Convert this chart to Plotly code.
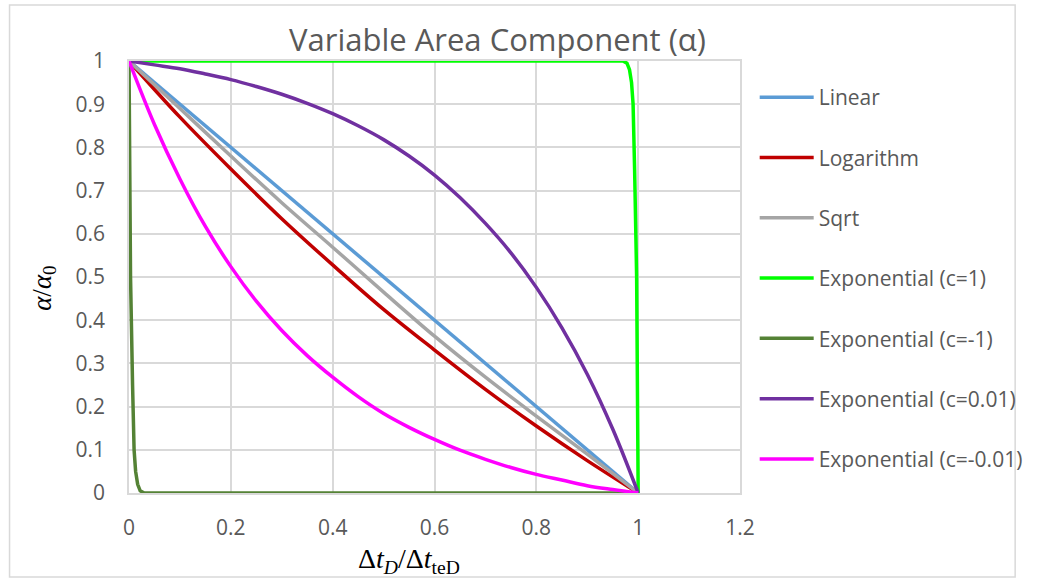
import plotly.graph_objects as go

# ---- data ----
X_TENTHS = [0, 0.1, 0.2, 0.3, 0.4, 0.5, 0.6, 0.7, 0.8, 0.9, 1.0]
X_TWENTIETHS = [0, 0.05, 0.1, 0.15, 0.2, 0.25, 0.3, 0.35, 0.4, 0.45, 0.5,
                0.55, 0.6, 0.65, 0.7, 0.75, 0.8, 0.85, 0.9, 0.95, 1.0]

LINEAR_X = [0, 0.2, 0.4, 0.6, 0.8, 1.0]
LINEAR_Y = [1, 0.8, 0.6, 0.4, 0.2, 0]

LOG_Y = [1, 0.87, 0.75, 0.635, 0.528, 0.425, 0.331, 0.24, 0.155, 0.075, 0]
SQRT_Y = [1, 0.89, 0.78, 0.672, 0.569, 0.465, 0.363, 0.268, 0.178, 0.09, 0]

EXP_P1_X = [0, 0.97, 0.978, 0.983, 0.987, 0.99, 0.993, 0.997, 1.0]
EXP_P1_Y = [1, 1, 0.995, 0.98, 0.95, 0.9, 0.75, 0.5, 0]

EXP_M1_X = [0, 0.003, 0.007, 0.01, 0.013, 0.017, 0.022, 0.03, 1.0]
EXP_M1_Y = [1, 0.5, 0.25, 0.1, 0.05, 0.02, 0.005, 0, 0]

EXP_P001_Y = [1, 0.991, 0.982, 0.970, 0.957, 0.941, 0.923, 0.902, 0.878,
              0.850, 0.818, 0.780, 0.736, 0.684, 0.624, 0.556, 0.476, 0.383,
              0.275, 0.148, 0]

EXP_M001_Y = [1, 0.853, 0.727, 0.617, 0.524, 0.444, 0.376, 0.318, 0.268,
              0.223, 0.184, 0.152, 0.124, 0.099, 0.078, 0.059, 0.043, 0.030,
              0.017, 0.008, 0]

SERIES = [
    ("Linear", LINEAR_X, LINEAR_Y, "#5B9BD5", "linear"),
    ("Logarithm", X_TENTHS, LOG_Y, "#C00000", "spline"),
    ("Sqrt", X_TENTHS, SQRT_Y, "#A5A5A5", "spline"),
    ("Exponential (c=1)", EXP_P1_X, EXP_P1_Y, "#00FF00", "linear"),
    ("Exponential (c=-1)", EXP_M1_X, EXP_M1_Y, "#548235", "linear"),
    ("Exponential (c=0.01)", X_TWENTIETHS, EXP_P001_Y, "#7030A0", "spline"),
    ("Exponential (c=-0.01)", X_TWENTIETHS, EXP_M001_Y, "#FF00FF", "spline"),
]

X_TICKS = [0, 0.2, 0.4, 0.6, 0.8, 1, 1.2]
X_TICK_LABELS = ["0", "0.2", "0.4", "0.6", "0.8", "1", "1.2"]
Y_TICKS = [0, 0.1, 0.2, 0.3, 0.4, 0.5, 0.6, 0.7, 0.8, 0.9, 1]
Y_TICK_LABELS = ["0", "0.1", "0.2", "0.3", "0.4", "0.5", "0.6", "0.7", "0.8", "0.9", "1"]

TEXT = "#595959"
GRID = "#D9D9D9"
FONT = "Open Sans"

fig = go.Figure()
for i, (name, xs, ys, color, shape) in enumerate(SERIES):
    fig.add_trace(go.Scatter(
        x=xs, y=ys, name=name, mode="lines",
        line=dict(color=color, width=3.5, shape=shape, smoothing=1.0),
        legendgroup=f"g{i}",
    ))

W, H = 1040, 579
L, R, T, B = 129, 753, 61, 493
PW, PH = R - L, B - T


def px(xp):
    return (xp - L) / PW


def py(yp):
    return (B - yp) / PH


fig.update_layout(
    width=W, height=H,
    margin=dict(l=L, r=W - R, t=T, b=H - B, pad=0),
    paper_bgcolor="white", plot_bgcolor="white",
    font=dict(family=FONT, color=TEXT, size=21),
    showlegend=True,
    legend=dict(
        x=px(768), y=py(77), xanchor="left", yanchor="top",
        font=dict(family=FONT, size=21, color=TEXT),
        tracegroupgap=30, itemwidth=54,
        bgcolor="rgba(0,0,0,0)",
        traceorder="grouped",
    ),
    xaxis=dict(
        range=[0, 1.2], tickvals=X_TICKS, ticktext=X_TICK_LABELS,
        showgrid=True, gridcolor=GRID, gridwidth=1.5,
        zeroline=False, showline=True, linecolor=GRID, linewidth=1.5, mirror=True,
        ticks="", ticklabelstandoff=15,
        tickfont=dict(family=FONT, size=21, color=TEXT),
    ),
    yaxis=dict(
        range=[0, 1], tickvals=Y_TICKS, ticktext=Y_TICK_LABELS,
        showgrid=True, gridcolor=GRID, gridwidth=1.5,
        zeroline=False, showline=True, linecolor=GRID, linewidth=1.5, mirror=True,
        ticks="", ticklabelstandoff=18,
        tickfont=dict(family=FONT, size=21, color=TEXT),
    ),
    annotations=[
        dict(text="Variable Area Component (α)", x=px(505), y=py(39),
             xref="paper", yref="paper", xanchor="center", yanchor="middle",
             showarrow=False, font=dict(family=FONT, size=31, color=TEXT)),
        dict(text="<i>α</i>/<i>α</i><sub>0</sub>", x=px(42), y=py(288),
             xref="paper", yref="paper", xanchor="center", yanchor="middle",
             textangle=-90, showarrow=False,
             font=dict(family="Liberation Serif", size=27, color="#000000")),
        dict(text="Δ<i>t</i><sub><i>D</i></sub>/Δ<i>t</i><sub>teD</sub>",
             x=px(415), y=py(560),
             xref="paper", yref="paper", xanchor="center", yanchor="middle",
             showarrow=False,
             font=dict(family="Liberation Serif", size=28, color="#000000")),
    ],
    shapes=[
        dict(type="rect", xref="paper", yref="paper",
             x0=px(7), x1=px(1034), y0=py(577), y1=py(5),
             line=dict(color=GRID, width=1.5), fillcolor="rgba(0,0,0,0)",
             layer="below"),
    ],
)

fig.write_html("out.html", config={"displayModeBar": False},
               post_script="document.body.style.margin='0px';")
